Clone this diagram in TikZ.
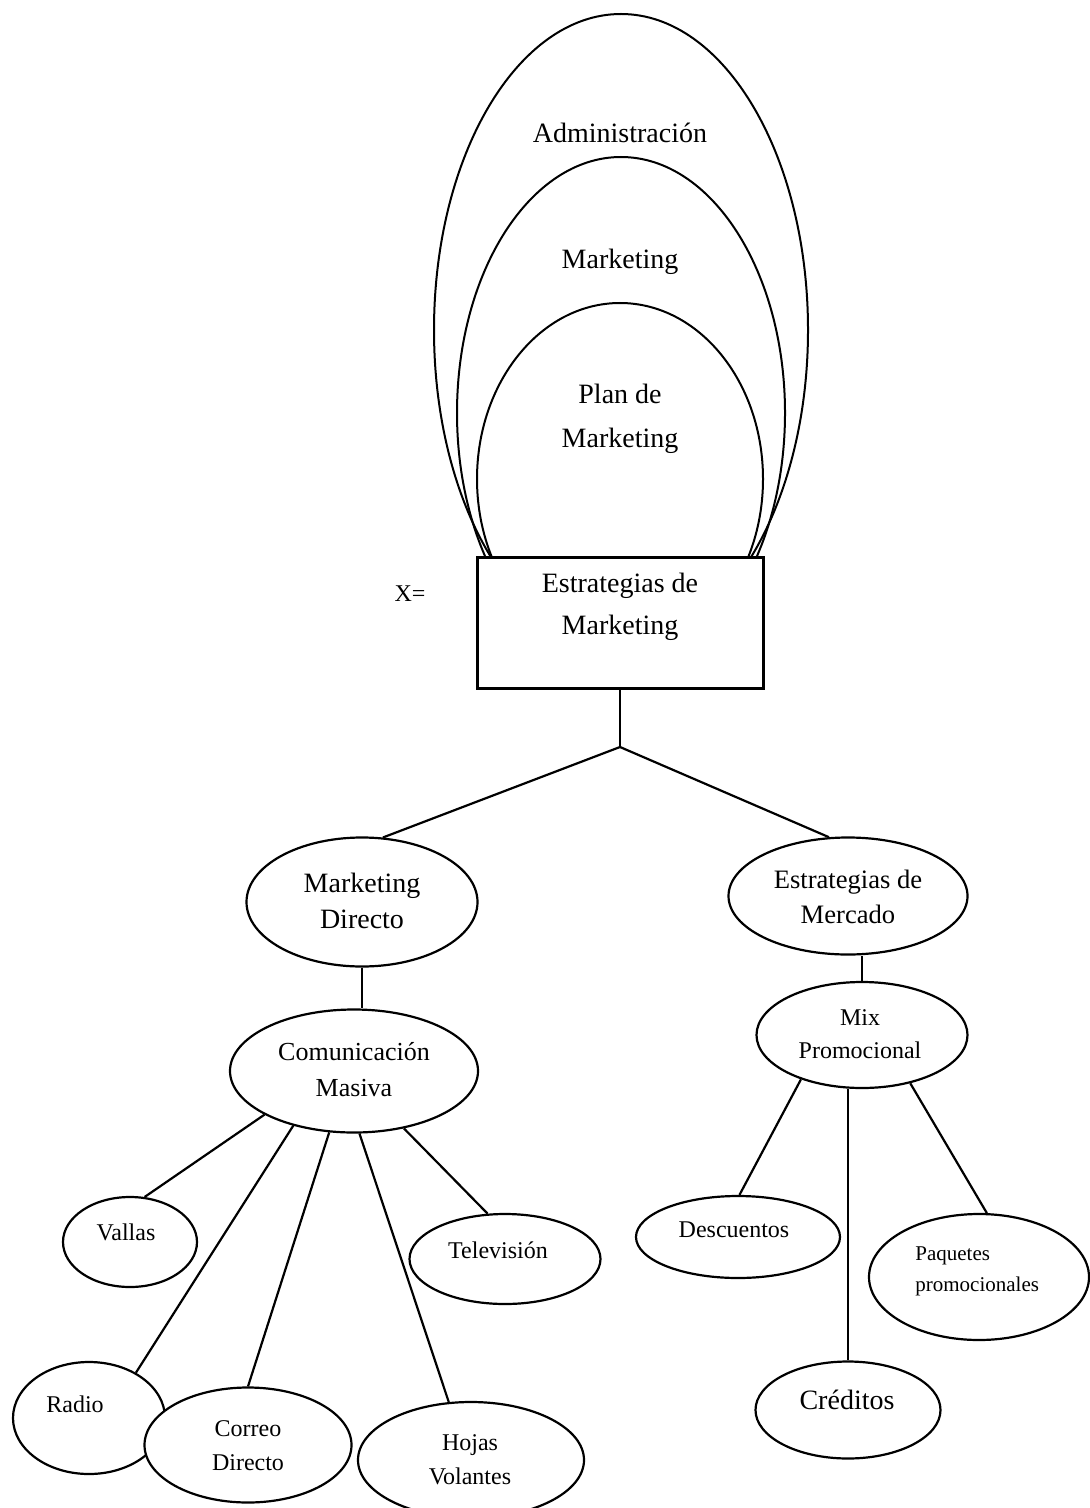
\documentclass[tikz,border=0pt]{standalone}
\usepackage{fontspec}
\setmainfont{Liberation Serif}
\usetikzlibrary{shapes.geometric}
\begin{document}
\begin{tikzpicture}[x=0.5pt,y=-0.5pt,
  ring/.style={draw, ellipse, line width=1pt, inner sep=0pt},
  el/.style={draw, ellipse, fill=white, line width=1.1pt, inner sep=0pt},
  ln/.style={line width=1.1pt},
  lbl/.style={align=center, inner sep=0pt, font=\fontsize{12}{17}\selectfont},
  big/.style={align=center, inner sep=0pt, font=\fontsize{14}{18}\selectfont}]
\useasboundingbox (0,0) rectangle (1089,1508);

% nested top ellipses
\begin{scope}
\clip (0,0) rectangle (1089,557);
\node[ring, minimum width=187pt, minimum height=316pt] (adm) at (621,330) {};
\node[ring, minimum width=164pt, minimum height=256pt] (mkt) at (621,413) {};
\node[ring, minimum width=143pt, minimum height=176pt] (plan) at (620,479) {};
\end{scope}
\node[big] (tadm) at (620,133) {Administración};
\node[big] (tmkt) at (620,262) {Marketing};
\node[big, font=\fontsize{14}{22}\selectfont] (tplan) at (620,419) {Plan de\\Marketing};

% central box
\node[draw, line width=1.5pt, minimum width=143pt, minimum height=65.5pt, inner sep=0pt] (est) at (620,622.5) {};
\node[big, font=\fontsize{14}{21}\selectfont] (test) at (620,607) {Estrategias de\\Marketing};
\node[lbl] (xeq) at (410,594) {X=};

% second level
\node[el, minimum width=115.5pt, minimum height=64.5pt] (md) at (362,902) {};
\node[big] (tmd) at (362,901) {Marketing\\Directo};
\node[el, minimum width=119.5pt, minimum height=58.5pt] (em) at (848,896) {};
\node[big, font=\fontsize{13.3}{17.5}\selectfont] (tem) at (848,897) {Estrategias de\\Mercado};

% third level
\node[el, minimum width=124pt, minimum height=61.5pt] (com) at (354,1071) {};
\node[big, font=\fontsize{13}{18}\selectfont] (tcom) at (354,1070) {Comunicación\\Masiva};
\node[el, minimum width=105.5pt, minimum height=53pt] (mix) at (862,1035) {};
\node[lbl, font=\fontsize{12}{16.5}\selectfont] (tmix) at (860,1034) {Mix\\Promocional};

% leaves right
\node[el, minimum width=102pt, minimum height=41pt] (desc) at (738,1237) {};
\node[lbl] (tdesc) at (734,1230) {Descuentos};
\node[el, minimum width=92.5pt, minimum height=48.5pt] (cred) at (848,1410) {};
\node[big] (tcred) at (847,1400) {Créditos};
\node[el, minimum width=110pt, minimum height=63pt] (paq) at (979,1277) {};
\node[lbl, anchor=west, align=left, font=\fontsize{10.5}{15.5}\selectfont] (tpaq) at (915,1271) {Paquetes\\promocionales};

% leaves left
\node[el, minimum width=67pt, minimum height=45pt] (vallas) at (130,1242) {};
\node[lbl] (tvallas) at (126,1232) {Vallas};
\node[el, minimum width=95.5pt, minimum height=45pt] (tv) at (505,1259) {};
\node[lbl] (ttv) at (498,1250) {Televisión};
\node[el, minimum width=76pt, minimum height=56pt] (radio) at (89,1418) {};
\node[lbl] (tradio) at (75,1404) {Radio};
\node[el, minimum width=103.5pt, minimum height=57.5pt] (correo) at (248,1445) {};
\node[lbl] (tcorreo) at (248,1446) {Correo\\Directo};
\node[el, minimum width=113pt, minimum height=58pt] (hojas) at (471,1460) {};
\node[lbl] (thojas) at (470,1460) {Hojas\\Volantes};

% connectors
\coordinate (j) at (620,747);
\draw[ln] (est.south) -- (j);
\draw[ln] (j) -- (md.72);
\draw[ln] (j) -- (em.108);
\draw[ln] (md.south) -- (md.south |- com.north);
\draw[ln] (mix.north |- em.south) -- (mix.north);
\draw[ln] (mix.216) -- (desc.88);
\draw[ln] (mix.south -| cred.north) -- (cred.north);
\draw[ln] (mix.315) -- (paq.83);
\draw[ln] (com.206) -- (vallas.72);
\draw[ln] (com.222.6) -- (radio.44);
\draw[ln] (com.248.8) -- (correo.north);
\draw[ln] (com.275.5) -- (hojas.111);
\draw[ln] (com.311.8) -- (tv.111);
\end{tikzpicture}
\end{document}
